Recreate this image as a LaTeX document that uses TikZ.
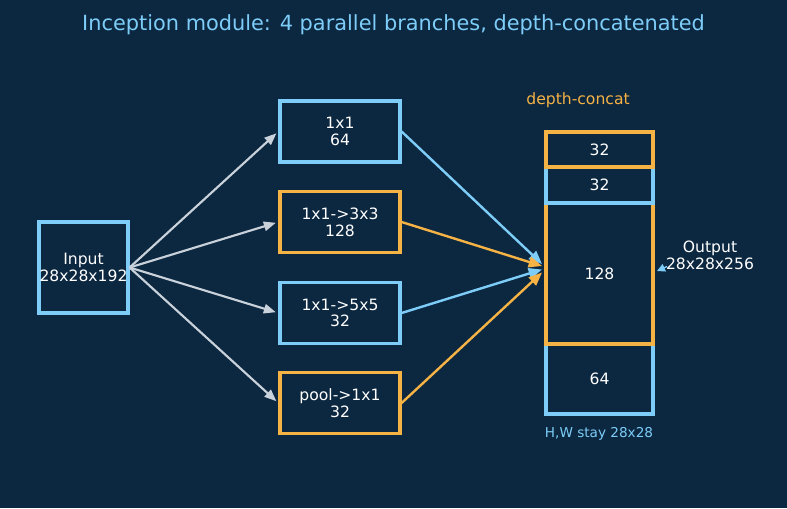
\documentclass[tikz,border=0pt]{standalone}
\usepackage{fontspec}
\setmainfont{DejaVu Sans}
\usetikzlibrary{arrows.meta}
\definecolor{bg}{HTML}{0C2740}
\definecolor{cblue}{HTML}{7DCDF8}
\definecolor{corange}{HTML}{F5B245}
\definecolor{cgray}{HTML}{C9D1DB}
\tikzset{
  box/.style={draw, line width=2.4pt, fill=bg, text=white, inner sep=0pt, align=center,
    font=\fontsize{11.7pt}{12.6pt}\selectfont, minimum width=#1},
  seg/.style={draw, line width=2.4pt, text=white, inner sep=0pt, align=center,
    font=\fontsize{11.7pt}{12.6pt}\selectfont, minimum width=107*0.75pt},
  inarrow/.style={draw=cgray, line width=1.6pt, -{Triangle[length=9pt,width=7pt]}, shorten >=2pt},
  outarrow/.style={line width=1.8pt, -{Triangle[length=10pt,width=8pt]}},
  lbl/.style={inner sep=0pt, align=center}
}
\begin{document}
\begin{tikzpicture}[x=0.75pt,y=-0.75pt]
\fill[bg] (0,0) rectangle (787,508);
\useasboundingbox (0,0) rectangle (787,508);
\node[lbl, text=cblue, font=\fontsize{15.65pt}{17pt}\selectfont] (title) at (393.5,24.5) {Inception module: 4 parallel branches, depth-concatenated};

\node[box=89*0.75pt, draw=cblue, minimum height=91*0.75pt] (inp) at (83.5,267.5) {Input\\28x28x192};

\node[box=120*0.75pt, draw=cblue, minimum height=61*0.75pt] (b1) at (340,131.5) {1x1\\64};
\node[box=120*0.75pt, draw=corange, minimum height=61*0.75pt] (b2) at (340,222) {1x1->3x3\\128};
\node[box=120*0.75pt, draw=cblue, minimum height=61*0.75pt] (b3) at (340,313) {1x1->5x5\\32};
\node[box=120*0.75pt, draw=corange, minimum height=61*0.75pt] (b4) at (340,403) {pool->1x1\\32};

% concat stack, drawn bottom to top
\node[seg, draw=cblue, minimum height=70*0.75pt] (s1) at (599.5,379) {64};
\node[seg, draw=corange, minimum height=141*0.75pt] (s2) at (599.5,273.5) {128};
\node[seg, draw=cblue, minimum height=36*0.75pt] (s3) at (599.5,185) {32};
\node[seg, draw=corange, minimum height=35*0.75pt] (s4) at (599.5,149.5) {32};

\node[lbl, text=corange, font=\fontsize{11.7pt}{12.6pt}\selectfont] (dc) at (578,100) {depth-concat};
\node[lbl, text=cblue, font=\fontsize{10.2pt}{11pt}\selectfont] (hw) at (599,434) {H,W stay 28x28};
\node[lbl, text=white, font=\fontsize{11.7pt}{12.6pt}\selectfont] (out) at (710,255) {Output\\28x28x256};

% input -> branches
\draw[inarrow] (inp.east) -- (b1.west);
\draw[inarrow] (inp.east) -- (b2.west);
\draw[inarrow] (inp.east) -- (b3.west);
\draw[inarrow] (inp.east) -- (b4.west);

% branches -> concat
\coordinate (m1) at (542,264);
\coordinate (m2) at (542,266);
\coordinate (m3) at (542,269.5);
\coordinate (m4) at (542,272.5);
\draw[outarrow, draw=cblue] (b1.east) -- (m1);
\draw[outarrow, draw=corange] (b2.east) -- (m2);
\draw[outarrow, draw=cblue] (b3.east) -- (m3);
\draw[outarrow, draw=corange] (b4.east) -- (m4);

% output pointer
\coordinate (oa) at (667,266.5);
\coordinate (ob) at (657,271);
\draw[cblue, line width=1pt, -{Triangle[length=6pt,width=6pt]}] (oa) -- (ob);
\end{tikzpicture}
\end{document}
